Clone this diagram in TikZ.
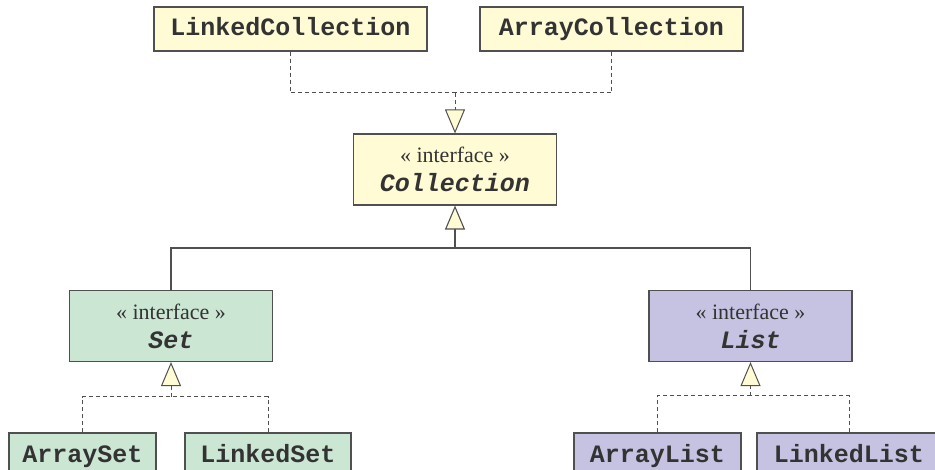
\documentclass[tikz,border=0pt]{standalone}
\usepackage{fontspec}
\setmainfont{Liberation Serif}
\setmonofont{Liberation Mono}
\usetikzlibrary{arrows.meta}
\definecolor{yfill}{HTML}{FFFBD5}
\definecolor{gfill}{HTML}{CBE6D3}
\definecolor{pfill}{HTML}{C6C3E2}
\definecolor{lcol}{HTML}{505050}
\definecolor{tcol}{HTML}{333333}
\begin{document}
\begin{tikzpicture}[x=1pt,y=-1pt,
  box/.style={draw=lcol, line width=1.1pt, inner sep=0pt, minimum height=44pt,
    text height=18pt, text depth=4pt,
    font=\fontsize{25}{30}\selectfont\ttfamily\bfseries, text=tcol},
  iface/.style={draw=lcol, line width=1.1pt, inner sep=0pt, minimum height=71pt,
    minimum width=203pt, align=center, text=tcol, font=\fontsize{22}{29}\selectfont},
  iname/.style={},
  real/.style={draw=lcol, line width=1pt, dash pattern=on 4pt off 3pt},
  assoc/.style={draw=lcol, line width=1.1pt},
  gen/.style={-{Triangle[length=24pt,width=20pt,fill=yfill]}}]
\useasboundingbox (0,0) rectangle (935,470);

\newcommand{\ifname}[1]{{\fontsize{25}{29}\selectfont\ttfamily\bfseries\itshape #1}}

\node[box, fill=yfill, minimum width=273pt] (lcoll) at (290.5,29) {LinkedCollection};
\node[box, fill=yfill, minimum width=263pt] (acoll) at (611.5,29) {ArrayCollection};

\node[iface, fill=yfill] (coll) at (455,169.5) {« interface »\\\ifname{Collection}};
\node[iface, fill=gfill] (set) at (171,326) {« interface »\\\ifname{Set}};
\node[iface, fill=pfill] (list) at (750.5,326) {« interface »\\\ifname{List}};

\node[box, fill=gfill, minimum width=147pt] (aset) at (82.5,455) {ArraySet};
\node[box, fill=gfill, minimum width=166pt] (lset) at (268,455) {LinkedSet};
\node[box, fill=pfill, minimum width=167pt] (alist) at (657.5,455) {ArrayList};
\node[box, fill=pfill, minimum width=184pt] (llist) at (849,455) {LinkedList};

\coordinate (j1) at (455,93);
\coordinate (j2) at (455,248);
\coordinate (j3) at (171,397);
\coordinate (j4) at (750.5,396);

\draw[real] (lcoll.south) |- (j1);
\draw[real] (acoll.south) |- (j1);
\draw[real, gen] (j1) -- (coll.north);

\draw[assoc] (set.north) |- (j2);
\draw[assoc] (list.north) |- (j2);
\draw[assoc, gen] (j2) -- (coll.south);

\draw[real] (aset.north) |- (j3);
\draw[real] (lset.north) |- (j3);
\draw[real, gen] (j3) -- (set.south);

\draw[real] (alist.north) |- (j4);
\draw[real] (llist.north) |- (j4);
\draw[real, gen] (j4) -- (list.south);
\end{tikzpicture}
\end{document}
